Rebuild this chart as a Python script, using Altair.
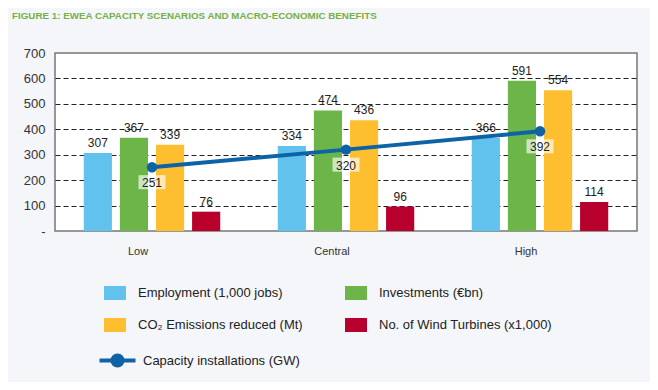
import altair as alt
import pandas as pd

scenarios = ["Low", "Central", "High"]
metrics = ["Employment (1,000 jobs)", "Investments (€bn)",
           "CO₂ Emissions reduced (Mt)", "No. of Wind Turbines (x1,000)"]
employment = [307, 334, 366]
investments = [367, 474, 591]
co2 = [339, 436, 554]
turbines = [76, 96, 114]
capacity = [251, 320, 392]
line_name = "Capacity installations (GW)"
y_ticks = [0, 100, 200, 300, 400, 500, 600, 700]

bar_colors = ["#62c2ee", "#6cb548", "#fdbf30", "#b7002b"]
line_color = "#0e63a6"
FONT = "Liberation Sans"

rows = []
for m, vals in zip(metrics, [employment, investments, co2, turbines]):
    for s, v in zip(scenarios, vals):
        rows.append({"scenario": s, "metric": m, "value": v})
bars_df = pd.DataFrame(rows)
line_df = pd.DataFrame({"scenario": scenarios, "value": capacity,
                        "series": [line_name] * len(scenarios)})

x_enc = alt.X("scenario:N", sort=scenarios,
              scale=alt.Scale(paddingInner=0.278, paddingOuter=0.139),
              axis=alt.Axis(title=None, ticks=False, domain=False, labelAngle=0,
                            labelFontSize=11, labelColor="#333", labelFont=FONT,
                            labelPadding=14, labelOffset=-14))
y_enc = alt.Y("value:Q", scale=alt.Scale(domain=[0, 700], nice=False),
              axis=alt.Axis(title=None, values=y_ticks, ticks=False, domain=False,
                            labelExpr="datum.value == 0 ? '-' : datum.label",
                            labelFontSize=13, labelColor="#333", labelFont=FONT,
                            labelPadding=10, labelFlush=False, labelOverlap=False,
                            gridColor="#222", gridDash=[5, 3], gridWidth=1,
                            gridOpacity={"condition": {"test": "datum.value == 0 || datum.value == 700", "value": 0}, "value": 1}))

xoff = alt.XOffset("metric:N", sort=metrics,
                   scale=alt.Scale(paddingInner=0.22, paddingOuter=0.05))

rect_path = "M-1,-0.636 L1,-0.636 L1,0.636 L-1,0.636 Z"
bars = alt.Chart(bars_df).mark_bar().encode(
    x=x_enc, y=y_enc, xOffset=xoff,
    color=alt.Color("metric:N", sort=metrics,
                    scale=alt.Scale(domain=metrics, range=bar_colors),
                    legend=alt.Legend(title=None, orient="none", legendX=49, legendY=229,
                                      direction="horizontal",
                                      columns=2, columnPadding=42, rowPadding=14,
                                      symbolType=rect_path, symbolSize=484,
                                      symbolStrokeWidth=0, labelOffset=12,
                                      labelFontSize=13, labelFont=FONT, labelColor="#222",
                                      padding=0, labelLimit=400))
)
bar_text = alt.Chart(bars_df).mark_text(baseline="alphabetic", dy=-6, fontSize=12,
                                        font=FONT, color="#222").encode(
    x=x_enc, xOffset=xoff, y=y_enc, text="value:Q")

line_sym = "M-1.6,0 L1.6,0 M0.45,0 A0.45,0.45 0 1 1 -0.45,0 A0.45,0.45 0 1 1 0.45,0"
line = alt.Chart(line_df).mark_line(strokeWidth=4).encode(
    x=x_enc, y=y_enc,
    stroke=alt.Stroke("series:N", scale=alt.Scale(domain=[line_name], range=[line_color]),
                      legend=alt.Legend(title=None, orient="none", legendX=49, legendY=294,
                                        symbolType=line_sym, symbolSize=506,
                                        symbolStrokeWidth=4, symbolFillColor=line_color,
                                        symbolStrokeColor=line_color, labelOffset=12,
                                        labelFontSize=13, labelFont=FONT, labelColor="#222",
                                        padding=0, labelLimit=400)))
points = alt.Chart(line_df).mark_point(filled=True, size=110, opacity=1,
                                       color=line_color).encode(x=x_enc, y=y_enc)
box_path = "M-1,-0.52 L1,-0.52 L1,0.52 L-1,0.52 Z"
boxes = alt.Chart(line_df).mark_point(shape=box_path, filled=True, size=729,
                                      color="white", opacity=0.65, yOffset=15).encode(
    x=x_enc, y=y_enc)
line_text = alt.Chart(line_df).mark_text(baseline="middle", dy=16, fontSize=12,
                                         font=FONT, color="#222").encode(
    x=x_enc, y=y_enc, text="value:Q")

chart = alt.layer(bars, bar_text, line, points, boxes, line_text).resolve_scale(
    color="independent"
).properties(
    width=582, height=178,
    autosize=alt.AutoSizeParams(type="none"),
    padding={"left": 47, "top": 45, "right": 13, "bottom": 151},
    background="#f4f6f9",
    title=alt.Title("FIGURE 1: EWEA CAPACITY SCENARIOS AND MACRO-ECONOMIC BENEFITS",
                    anchor="start", frame="group", dx=-43, offset=26,
                    fontSize=9.8, font=FONT, fontWeight="bold", color="#76b044"),
).configure_view(stroke="#777", strokeWidth=1.5, fill="white")

chart.save("out.html", embed_options={"renderer": "svg", "actions": False})
